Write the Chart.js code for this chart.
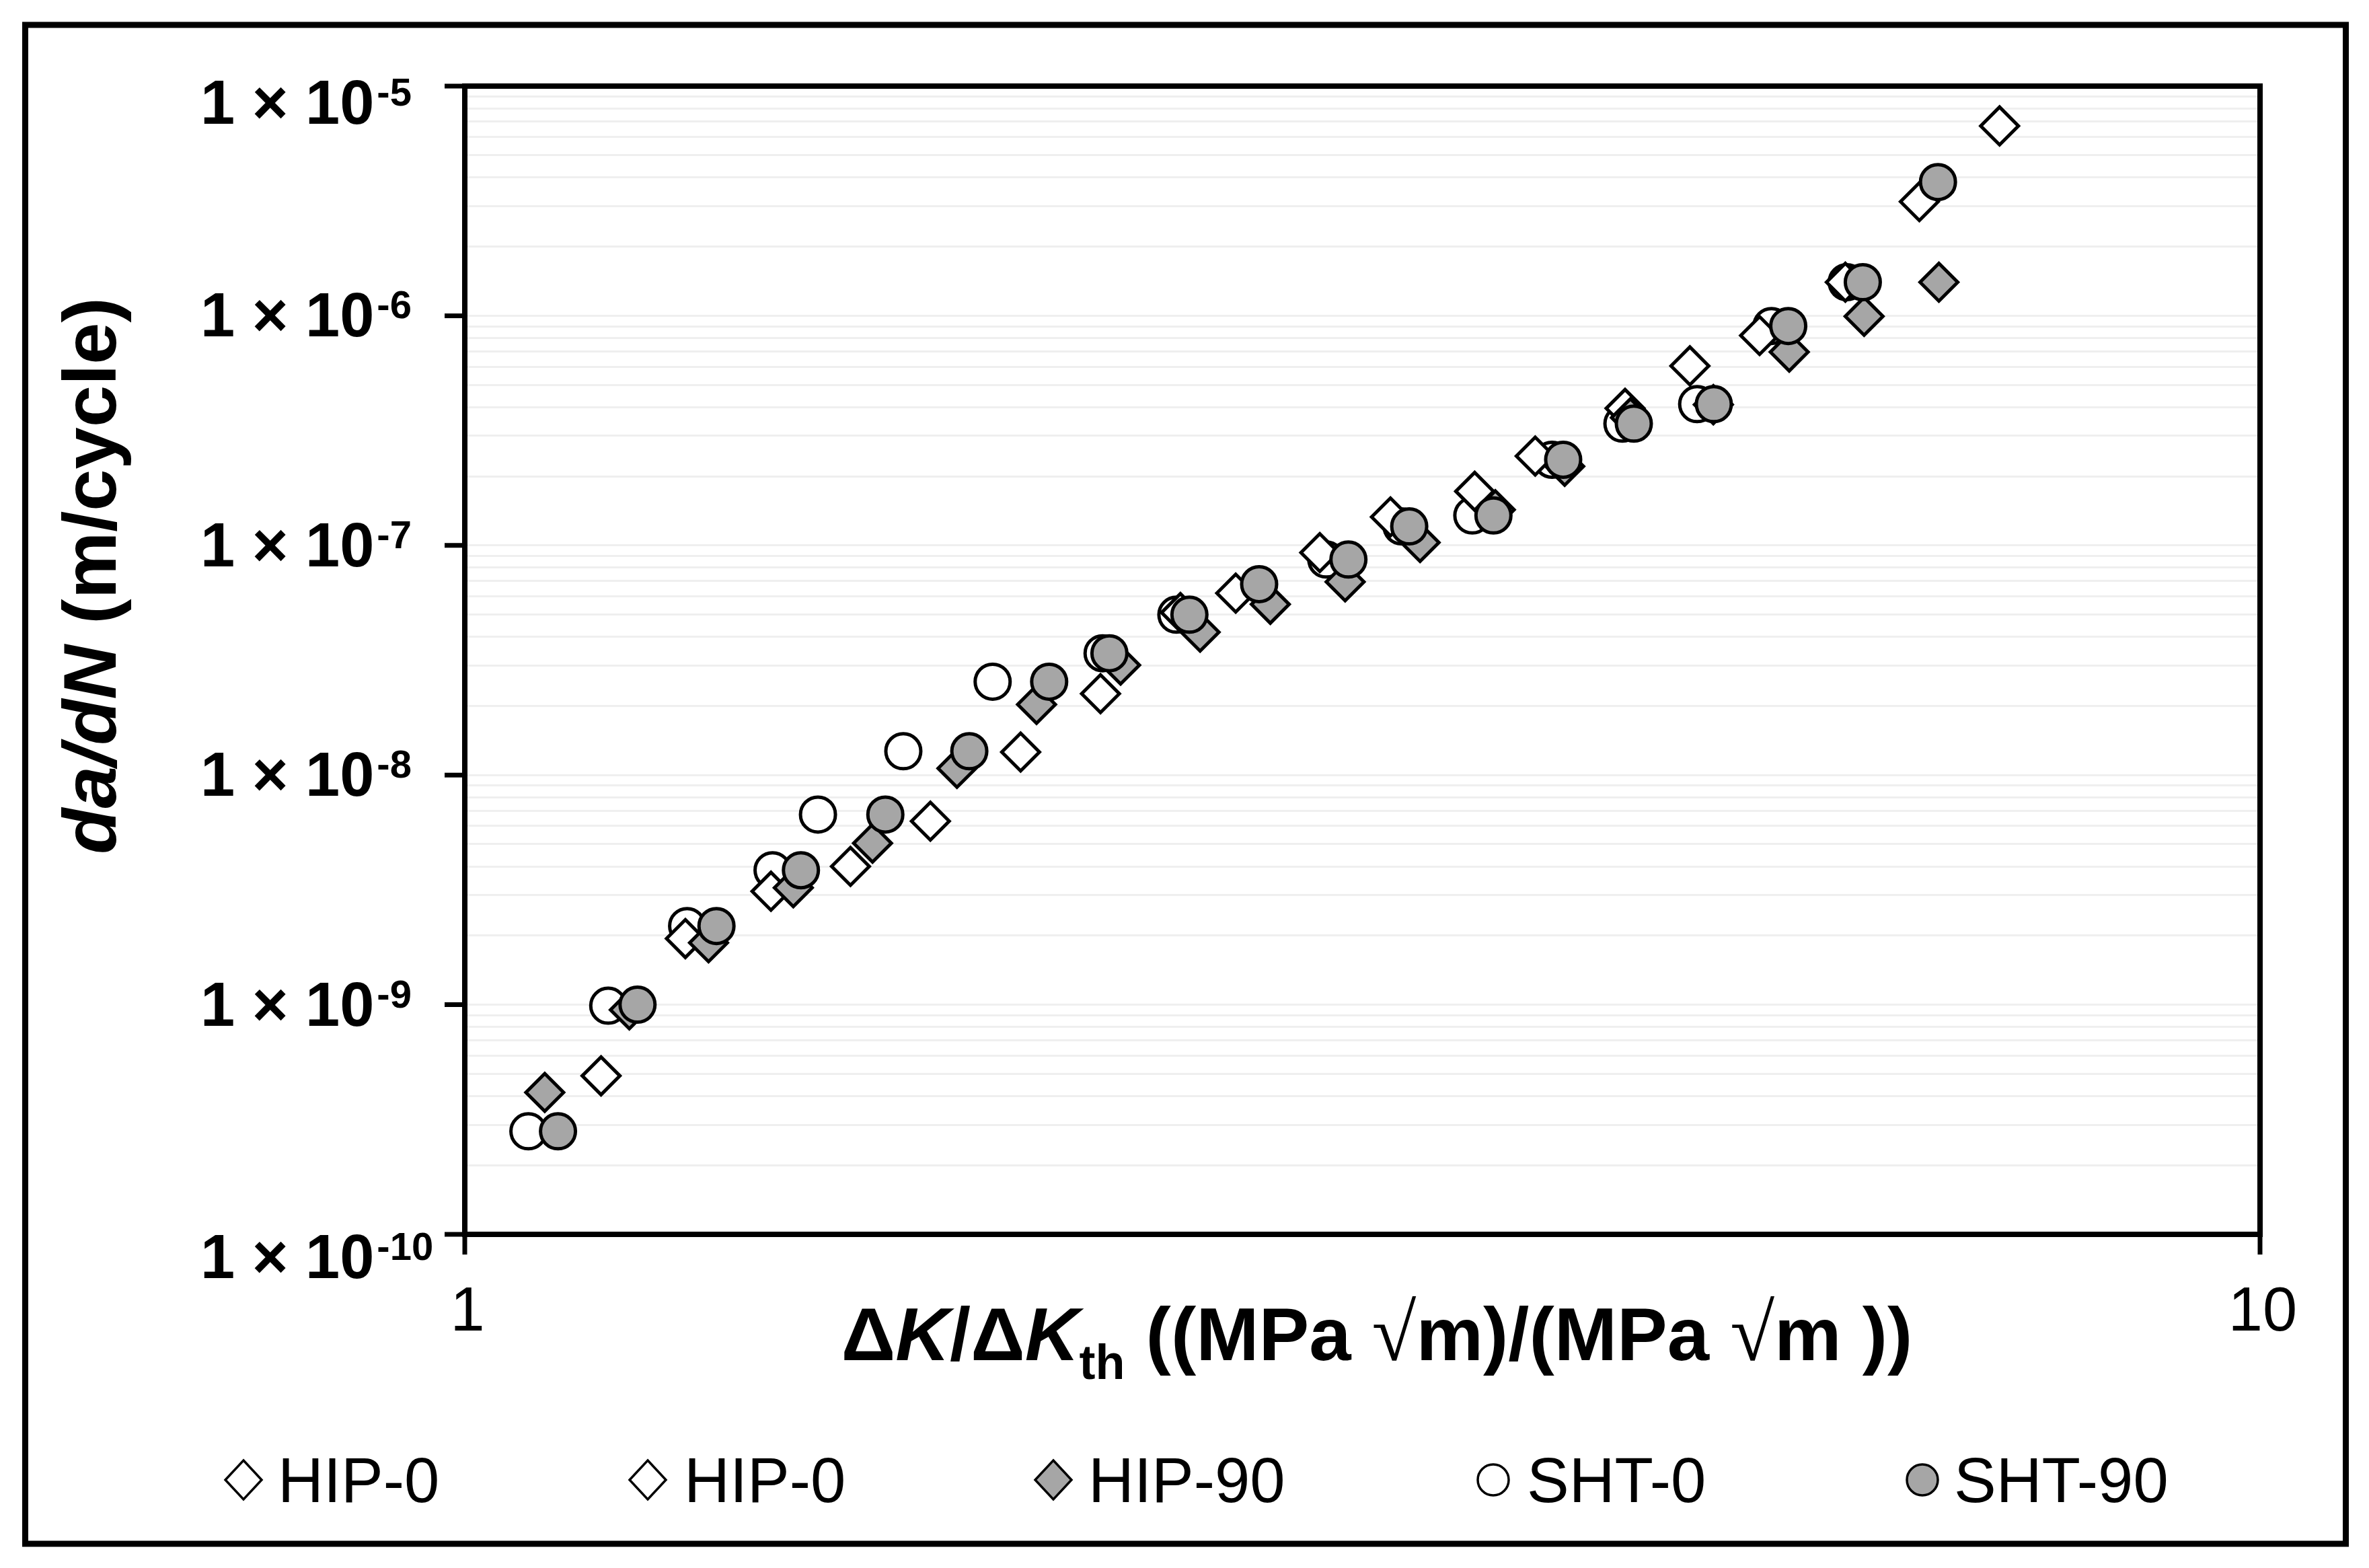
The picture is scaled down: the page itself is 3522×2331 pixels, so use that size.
<!DOCTYPE html>
<html>
<head>
<meta charset="utf-8">
<script src="https://cdn.jsdelivr.net/npm/chart.js@4.4.1/dist/chart.umd.min.js"></script>
<style>
  html, body { margin: 0; padding: 0; background: #fff; }
  canvas { display: block; }
</style>
</head>
<body>
<canvas id="chart" width="3522" height="2331"></canvas>
<script>
// x = ΔK/ΔKth, y = da/dN (m/cycle)
const hip0aX = [1.191, 1.327, 1.481, 1.640, 1.817, 2.040, 2.260];
const hip0aY = [4.9e-10, 1.94e-9, 3.12e-9, 4.0e-9, 6.3e-9, 1.26e-8, 2.26e-8];

const hip0bX = [2.504, 2.688, 2.994, 3.278, 3.652, 3.947, 4.429, 4.813, 5.263, 5.875, 6.460, 7.160];
const hip0bY = [5.1e-8, 6.2e-8, 9.3e-8, 1.33e-7, 1.72e-7, 2.45e-7, 3.95e-7, 6.05e-7, 8.2e-7, 1.40e-6, 3.14e-6, 6.71e-6];

const hip90X = [1.108, 1.235, 1.367, 1.524, 1.687, 1.880, 2.082, 2.319, 2.568, 2.810, 3.093, 3.405, 3.750, 4.099, 4.460, 4.960, 5.467, 6.018, 6.624];
const hip90Y = [4.15e-10, 9.5e-10, 1.86e-9, 3.23e-9, 5.05e-9, 1.07e-8, 2.03e-8, 3.01e-8, 4.19e-8, 5.54e-8, 6.94e-8, 1.03e-7, 1.43e-7, 2.21e-7, 3.6e-7, 4.1e-7, 6.95e-7, 9.95e-7, 1.40e-6];

const sht0X = [1.085, 1.202, 1.330, 1.484, 1.573, 1.755, 1.968, 2.266, 2.491, 3.019, 3.325, 3.641, 4.033, 4.414, 4.858, 5.344, 5.885];
const sht0Y = [2.81e-10, 9.9e-10, 2.20e-9, 3.85e-9, 6.73e-9, 1.27e-8, 2.55e-8, 3.39e-8, 4.99e-8, 8.68e-8, 1.21e-7, 1.35e-7, 2.36e-7, 3.39e-7, 4.12e-7, 9.02e-7, 1.40e-6];

const sht90X = [1.127, 1.248, 1.381, 1.539, 1.715, 1.910, 2.116, 2.286, 2.533, 2.770, 3.106, 3.358, 3.741, 4.091, 4.479, 4.963, 5.460, 6.008, 6.616];
const sht90Y = [2.81e-10, 1.0e-9, 2.20e-9, 3.85e-9, 6.73e-9, 1.27e-8, 2.55e-8, 3.39e-8, 4.99e-8, 6.78e-8, 8.68e-8, 1.21e-7, 1.35e-7, 2.36e-7, 3.39e-7, 4.12e-7, 9.02e-7, 1.40e-6, 3.82e-6];

const seriesLabels = ["HIP-0", "HIP-0", "HIP-90", "SHT-0", "SHT-90"];

// axis ticks
const xTickValues = [1, 10];
const xTickLabels = ["1", "10"];
const yDecades = [-10, -9, -8, -7, -6, -5];
const yMinorSteps = [1, 2, 3, 4, 5, 6, 7, 8, 9];

const yGridValues = [];
yDecades.forEach((d) => {
  yMinorSteps.forEach((m) => {
    const v = m * Math.pow(10, d);
    if (v <= 1e-5 * 1.0001) yGridValues.push(v);
  });
});

const pts = (xs, ys) => xs.map((x, i) => ({ x: x, y: ys[i] }));

const FONT = '"Liberation Sans", Arial, sans-serif';
const GREY = "#a6a6a6";

const mkSet = (label, data, style, fill, radius, order) => ({
  label: label,
  data: data,
  showLine: false,
  pointStyle: style,
  pointRadius: radius,
  pointHoverRadius: radius,
  pointBackgroundColor: fill,
  pointBorderColor: "#000",
  pointBorderWidth: 5,
  pointHoverBorderWidth: 5,
  order: order,
});

// custom drawing of frame, axes, labels and legend (Excel look)
const excelDecor = {
  id: "excelDecor",
  afterDraw(chart) {
    const ctx = chart.ctx;
    const a = chart.chartArea;
    const xs = chart.scales.x;
    const ys = chart.scales.y;
    ctx.save();

    // outer frame
    ctx.strokeStyle = "#000";
    ctx.lineWidth = 9;
    ctx.strokeRect(37.5, 37, 3450, 2258);

    // plot box
    ctx.lineWidth = 8;
    ctx.strokeRect(a.left, a.top, a.right - a.left, a.bottom - a.top);

    // tick marks
    ctx.lineWidth = 7;
    ctx.beginPath();
    yDecades.forEach((d) => {
      const py = ys.getPixelForValue(Math.pow(10, d));
      ctx.moveTo(a.left - 30, py);
      ctx.lineTo(a.left, py);
    });
    xTickValues.forEach((v) => {
      const px = xs.getPixelForValue(v);
      ctx.moveTo(px, a.bottom);
      ctx.lineTo(px, a.bottom + 30);
    });
    ctx.stroke();

    // y tick labels: 1 × 10^n
    ctx.fillStyle = "#000";
    ctx.textAlign = "left";
    ctx.textBaseline = "alphabetic";
    yDecades.forEach((d) => {
      const py = ys.getPixelForValue(Math.pow(10, d));
      let shift = 31;
      if (d === yDecades[0]) shift = 65;
      if (d === yDecades[yDecades.length - 1]) shift = 56;
      const base = py + shift;
      ctx.font = "bold 92px " + FONT;
      const main = "1 \u00d7 10";
      ctx.fillText(main, 298, base);
      const w = ctx.measureText(main).width;
      ctx.font = "bold 58px " + FONT;
      ctx.fillText(String(d), 298 + w + 4, base - 27);
    });

    // x tick labels
    ctx.font = "92px " + FONT;
    ctx.textAlign = "center";
    xTickValues.forEach((v, i) => {
      ctx.fillText(xTickLabels[i], xs.getPixelForValue(v) + 4, 1978);
    });

    // x axis title
    const xt = [
      { t: "\u0394", f: "bold 112px " + FONT, dy: 0 },
      { t: "K", f: "italic bold 112px " + FONT, dy: 0 },
      { t: "/", f: "bold 112px " + FONT, dy: 0 },
      { t: "\u0394", f: "bold 112px " + FONT, dy: 0 },
      { t: "K", f: "italic bold 112px " + FONT, dy: 0 },
      { t: "th", f: "bold 72px " + FONT, dy: 28 },
      { t: " ((MPa ", f: "bold 112px " + FONT, dy: 0 },
      { t: "\u221a", f: "120px \"Liberation Serif\", serif", dy: 0 },
      { t: "m)/(MPa ", f: "bold 112px " + FONT, dy: 0 },
      { t: "\u221a", f: "120px \"Liberation Serif\", serif", dy: 0 },
      { t: "m ))", f: "bold 112px " + FONT, dy: 0 },
    ];
    drawRuns(ctx, xt, 2047, 2022);

    // y axis title, rotated
    ctx.save();
    ctx.translate(172, 856);
    ctx.rotate(-Math.PI / 2);
    const yt = [
      { t: "da/dN", f: "italic bold 112px " + FONT, dy: 0 },
      { t: " (m/cycle)", f: "bold 112px " + FONT, dy: 0 },
    ];
    drawRuns(ctx, yt, 0, 0);
    ctx.restore();

    // legend
    const markX = [362, 963, 1566, 2220, 2858];
    const textX = [413, 1017, 1618, 2270, 2905];
    const ly = 2200;
    chart.data.datasets.forEach((ds, i) => {
      ctx.beginPath();
      if (ds.pointStyle === "rectRot") {
        ctx.moveTo(markX[i], ly - 29);
        ctx.lineTo(markX[i] + 27, ly);
        ctx.lineTo(markX[i], ly + 29);
        ctx.lineTo(markX[i] - 27, ly);
        ctx.closePath();
      } else {
        ctx.arc(markX[i], ly, 23, 0, Math.PI * 2);
      }
      ctx.fillStyle = ds.pointBackgroundColor;
      ctx.fill();
      ctx.lineWidth = 3.5;
      ctx.strokeStyle = "#000";
      ctx.stroke();
      ctx.fillStyle = "#000";
      ctx.font = "94px " + FONT;
      ctx.textAlign = "left";
      ctx.fillText(ds.label, textX[i], 2233);
    });

    ctx.restore();
  },
};

function drawRuns(ctx, runs, cx, base) {
  let total = 0;
  runs.forEach((r) => {
    ctx.font = r.f;
    r.w = ctx.measureText(r.t).width;
    total += r.w;
  });
  let x = cx - total / 2;
  ctx.textAlign = "left";
  ctx.fillStyle = "#000";
  runs.forEach((r) => {
    ctx.font = r.f;
    ctx.fillText(r.t, x, base + r.dy);
    x += r.w;
  });
}

const chart = new Chart(document.getElementById("chart").getContext("2d"), {
  type: "scatter",
  data: {
    datasets: [
      mkSet(seriesLabels[0], pts(hip0aX, hip0aY), "rectRot", "#fff", 28, 2),
      mkSet(seriesLabels[1], pts(hip0bX, hip0bY), "rectRot", "#fff", 28, 2),
      mkSet(seriesLabels[2], pts(hip90X, hip90Y), "rectRot", GREY, 28, 1),
      mkSet(seriesLabels[3], pts(sht0X, sht0Y), "circle", "#fff", 26, 3),
      mkSet(seriesLabels[4], pts(sht90X, sht90Y), "circle", GREY, 26, 0),
    ],
  },
  options: {
    responsive: false,
    animation: false,
    devicePixelRatio: 1,
    layout: { padding: { left: 691, right: 162, top: 128, bottom: 496 } },
    plugins: {
      legend: { display: false },
      tooltip: { enabled: false },
    },
    scales: {
      x: {
        type: "logarithmic",
        min: 1,
        max: 10,
        display: false,
      },
      y: {
        type: "logarithmic",
        min: 1e-10,
        max: 1e-5,
        afterBuildTicks: (axis) => {
          axis.ticks = yGridValues.map((v) => ({ value: v }));
        },
        ticks: { display: false },
        grid: { color: "#efefef", lineWidth: 3, drawTicks: false },
        border: { display: false },
      },
    },
  },
  plugins: [excelDecor],
});
</script>
</body>
</html>
